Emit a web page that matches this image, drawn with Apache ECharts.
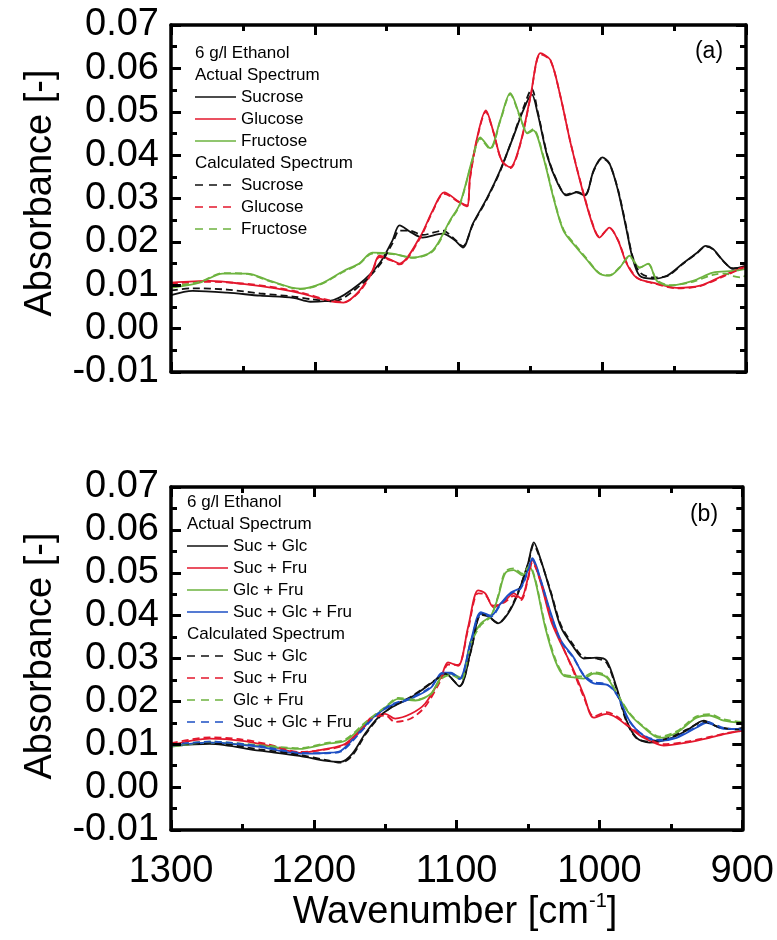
<!DOCTYPE html>
<html>
<head>
<meta charset="utf-8">
<script src="https://cdn.jsdelivr.net/npm/echarts@6/dist/echarts.min.js"></script>
<style>html,body{margin:0;padding:0;background:#fff;}#c{width:777px;height:940px;}</style>
</head>
<body>
<div id="c"></div>
<script>
// ---------- DATA ----------
const xTicks = [1300, 1200, 1100, 1000, 900];
const yRange = [-0.01, 0.07];

// Panel (a): [wavenumber, absorbance]
const aSucroseActual = [[1300,0.0077],[1285,0.0087],[1261,0.0083],[1238,0.0076],[1215,0.0071],[1203,0.0062],[1187,0.0066],[1169,0.0103],[1155,0.0150],[1146,0.0203],[1141,0.0238],[1133,0.0222],[1125,0.0210],[1111,0.0219],[1103,0.0205],[1097,0.0187],[1090,0.0242],[1080,0.0302],[1071,0.0365],[1062,0.0441],[1055,0.0503],[1049,0.0540],[1045,0.0497],[1038,0.0395],[1031,0.0335],[1025,0.0307],[1018,0.0314],[1012,0.0307],[1006,0.0365],[1000,0.0395],[995,0.0381],[989,0.0318],[983,0.0226],[979,0.0164],[974,0.0122],[965,0.0115],[955,0.0122],[944,0.0150],[934,0.0175],[928,0.0191],[923,0.0184],[916,0.0157],[909,0.0138],[900,0.0145]];
const aGlucoseActual = [[1300,0.0106],[1273,0.0110],[1250,0.0103],[1226,0.0092],[1208,0.0080],[1191,0.0064],[1180,0.0060],[1169,0.0087],[1160,0.0133],[1155,0.0168],[1146,0.0157],[1141,0.0150],[1127,0.0210],[1118,0.0272],[1110,0.0314],[1099,0.0291],[1094,0.0284],[1092,0.0349],[1087,0.0441],[1081,0.0503],[1076,0.0457],[1070,0.0388],[1064,0.0372],[1057,0.0427],[1050,0.0534],[1043,0.0635],[1036,0.0619],[1029,0.0534],[1022,0.0427],[1013,0.0310],[1006,0.0233],[1002,0.0210],[995,0.0233],[989,0.0203],[983,0.0150],[976,0.0117],[965,0.0106],[948,0.0094],[932,0.0099],[916,0.0122],[900,0.0145]];
const aFructoseActual = [[1300,0.0094],[1280,0.0106],[1264,0.0127],[1247,0.0127],[1231,0.0110],[1210,0.0092],[1196,0.0103],[1180,0.0133],[1169,0.0150],[1160,0.0175],[1146,0.0173],[1132,0.0164],[1118,0.0180],[1106,0.0249],[1099,0.0288],[1090,0.0395],[1085,0.0441],[1078,0.0416],[1071,0.0480],[1064,0.0543],[1057,0.0487],[1052,0.0450],[1048,0.0457],[1041,0.0395],[1034,0.0302],[1027,0.0226],[1018,0.0187],[1011,0.0160],[1002,0.0127],[995,0.0122],[988,0.0140],[981,0.0168],[974,0.0140],[968,0.0150],[962,0.0110],[953,0.0099],[937,0.0110],[923,0.0129],[909,0.0133],[900,0.0138]];
const aSucroseCalc = [[1300,0.0088],[1285,0.0093],[1261,0.0090],[1238,0.0081],[1215,0.0074],[1203,0.0068],[1187,0.0063],[1169,0.0098],[1155,0.0146],[1146,0.0196],[1141,0.0226],[1134,0.0226],[1125,0.0216],[1111,0.0226],[1103,0.0207],[1097,0.0190],[1090,0.0240],[1080,0.0300],[1071,0.0363],[1062,0.0443],[1055,0.0508],[1049,0.0552],[1045,0.0502],[1038,0.0398],[1031,0.0337],[1025,0.0309],[1018,0.0315],[1012,0.0309],[1006,0.0363],[1000,0.0393],[995,0.0380],[989,0.0320],[983,0.0230],[979,0.0168],[974,0.0130],[965,0.0118],[955,0.0121],[944,0.0149],[934,0.0174],[928,0.0189],[923,0.0183],[916,0.0156],[909,0.0139],[900,0.0143]];
const aGlucoseCalc = [[1300,0.0104],[1273,0.0108],[1250,0.0104],[1226,0.0094],[1208,0.0082],[1191,0.0066],[1180,0.0061],[1169,0.0085],[1160,0.0130],[1155,0.0165],[1146,0.0156],[1141,0.0148],[1127,0.0207],[1118,0.0270],[1110,0.0311],[1099,0.0290],[1094,0.0282],[1092,0.0345],[1087,0.0438],[1081,0.0500],[1076,0.0456],[1070,0.0387],[1064,0.0370],[1057,0.0425],[1050,0.0532],[1043,0.0633],[1036,0.0618],[1029,0.0534],[1022,0.0428],[1013,0.0312],[1006,0.0235],[1002,0.0212],[995,0.0232],[989,0.0204],[983,0.0152],[976,0.0118],[965,0.0105],[948,0.0093],[932,0.0098],[916,0.0120],[900,0.0143]];
const aFructoseCalc = [[1300,0.0098],[1280,0.0108],[1264,0.0128],[1247,0.0126],[1231,0.0109],[1210,0.0091],[1196,0.0102],[1180,0.0131],[1169,0.0149],[1160,0.0173],[1146,0.0172],[1132,0.0163],[1118,0.0178],[1106,0.0247],[1099,0.0286],[1090,0.0393],[1085,0.0438],[1078,0.0414],[1071,0.0478],[1064,0.0540],[1057,0.0486],[1052,0.0452],[1048,0.0460],[1041,0.0398],[1034,0.0305],[1027,0.0229],[1018,0.0190],[1011,0.0162],[1002,0.0128],[995,0.0123],[988,0.0141],[981,0.0166],[974,0.0141],[968,0.0149],[962,0.0112],[953,0.0100],[937,0.0108],[923,0.0124],[914,0.0127],[909,0.0121],[903,0.0118],[900,0.0124]];

// Panel (b)
const bSucGlcActual = [[1300,0.0096],[1273,0.0101],[1238,0.0085],[1210,0.0073],[1191,0.0061],[1181,0.0059],[1173,0.0078],[1164,0.0125],[1155,0.0162],[1146,0.0185],[1132,0.0209],[1115,0.0249],[1108,0.0265],[1098,0.0235],[1090,0.0319],[1083,0.0405],[1078,0.0400],[1071,0.0382],[1064,0.0405],[1057,0.0452],[1050,0.0522],[1046,0.0571],[1041,0.0529],[1034,0.0452],[1027,0.0373],[1018,0.0326],[1011,0.0300],[1002,0.0302],[995,0.0295],[988,0.0232],[981,0.0155],[974,0.0115],[965,0.0104],[951,0.0113],[939,0.0132],[927,0.0155],[916,0.0139],[903,0.0136],[900,0.0138]];
const bSucFruActual = [[1300,0.0098],[1273,0.0113],[1250,0.0108],[1231,0.0096],[1210,0.0080],[1191,0.0089],[1178,0.0101],[1166,0.0139],[1160,0.0162],[1150,0.0171],[1143,0.0160],[1132,0.0171],[1122,0.0195],[1111,0.0256],[1106,0.0291],[1099,0.0283],[1092,0.0373],[1085,0.0459],[1080,0.0452],[1074,0.0419],[1066,0.0436],[1060,0.0452],[1055,0.0440],[1050,0.0489],[1047,0.0529],[1041,0.0475],[1034,0.0389],[1027,0.0335],[1018,0.0272],[1011,0.0215],[1004,0.0162],[995,0.0171],[988,0.0162],[979,0.0139],[969,0.0115],[955,0.0097],[939,0.0104],[923,0.0115],[911,0.0125],[900,0.0132]];
const bGlcFruActual = [[1300,0.0094],[1273,0.0104],[1238,0.0096],[1210,0.0089],[1191,0.0101],[1178,0.0108],[1164,0.0148],[1150,0.0185],[1141,0.0206],[1129,0.0202],[1118,0.0218],[1111,0.0256],[1104,0.0265],[1097,0.0255],[1090,0.0342],[1083,0.0382],[1076,0.0400],[1071,0.0443],[1066,0.0499],[1060,0.0506],[1054,0.0494],[1049,0.0513],[1045,0.0482],[1038,0.0373],[1031,0.0295],[1025,0.0260],[1018,0.0256],[1011,0.0253],[1004,0.0265],[995,0.0256],[988,0.0218],[979,0.0171],[969,0.0139],[958,0.0115],[946,0.0127],[932,0.0162],[923,0.0167],[913,0.0155],[900,0.0150]];
const bAllActual = [[1300,0.0096],[1273,0.0104],[1238,0.0094],[1210,0.0078],[1191,0.0080],[1181,0.0085],[1169,0.0125],[1157,0.0167],[1146,0.0190],[1132,0.0206],[1118,0.0232],[1110,0.0267],[1104,0.0267],[1098,0.0253],[1090,0.0342],[1083,0.0408],[1076,0.0400],[1069,0.0429],[1062,0.0454],[1055,0.0466],[1049,0.0518],[1047,0.0534],[1041,0.0482],[1034,0.0405],[1027,0.0342],[1018,0.0302],[1011,0.0260],[1004,0.0242],[995,0.0239],[988,0.0218],[979,0.0155],[969,0.0120],[958,0.0108],[946,0.0115],[932,0.0139],[925,0.0150],[913,0.0136],[900,0.0136]];
const bSucGlcCalc = [[1300,0.0098],[1273,0.0103],[1238,0.0088],[1210,0.0075],[1191,0.0063],[1181,0.0057],[1173,0.0074],[1164,0.0122],[1155,0.0160],[1146,0.0186],[1132,0.0211],[1115,0.0250],[1108,0.0264],[1098,0.0236],[1090,0.0317],[1083,0.0402],[1078,0.0398],[1071,0.0383],[1064,0.0407],[1057,0.0455],[1050,0.0520],[1046,0.0565],[1041,0.0527],[1034,0.0455],[1027,0.0378],[1018,0.0330],[1011,0.0303],[1002,0.0300],[995,0.0290],[988,0.0228],[981,0.0152],[974,0.0114],[965,0.0106],[951,0.0115],[939,0.0134],[927,0.0152],[916,0.0140],[903,0.0134],[900,0.0137]];
const bSucFruCalc = [[1300,0.0102],[1273,0.0116],[1250,0.0111],[1231,0.0099],[1210,0.0082],[1191,0.0088],[1178,0.0099],[1166,0.0136],[1160,0.0160],[1150,0.0167],[1143,0.0152],[1132,0.0160],[1122,0.0188],[1111,0.0250],[1106,0.0286],[1099,0.0285],[1092,0.0368],[1085,0.0452],[1080,0.0449],[1074,0.0423],[1066,0.0432],[1060,0.0446],[1055,0.0436],[1050,0.0485],[1047,0.0524],[1041,0.0478],[1034,0.0395],[1027,0.0338],[1018,0.0268],[1011,0.0210],[1004,0.0165],[995,0.0175],[988,0.0165],[979,0.0141],[969,0.0118],[955,0.0100],[939,0.0106],[923,0.0117],[911,0.0126],[900,0.0131]];
const bGlcFruCalc = [[1300,0.0097],[1273,0.0106],[1238,0.0098],[1210,0.0091],[1191,0.0103],[1178,0.0111],[1164,0.0151],[1150,0.0187],[1141,0.0208],[1129,0.0204],[1118,0.0217],[1111,0.0252],[1104,0.0262],[1097,0.0250],[1090,0.0335],[1083,0.0378],[1076,0.0398],[1071,0.0446],[1066,0.0503],[1060,0.0510],[1054,0.0498],[1049,0.0516],[1045,0.0485],[1038,0.0378],[1031,0.0300],[1025,0.0263],[1018,0.0259],[1011,0.0258],[1004,0.0268],[995,0.0259],[988,0.0220],[979,0.0173],[969,0.0141],[958,0.0118],[946,0.0130],[932,0.0165],[923,0.0170],[913,0.0158],[900,0.0152]];
const bAllCalc = [[1300,0.0099],[1273,0.0106],[1238,0.0096],[1210,0.0080],[1191,0.0079],[1181,0.0083],[1169,0.0122],[1157,0.0165],[1146,0.0192],[1132,0.0208],[1118,0.0234],[1110,0.0265],[1104,0.0265],[1098,0.0252],[1090,0.0338],[1083,0.0404],[1076,0.0398],[1069,0.0427],[1062,0.0452],[1055,0.0464],[1049,0.0515],[1047,0.0530],[1041,0.0480],[1034,0.0402],[1027,0.0340],[1018,0.0300],[1011,0.0262],[1004,0.0245],[995,0.0240],[988,0.0216],[979,0.0153],[969,0.0121],[958,0.0110],[946,0.0117],[932,0.0141],[925,0.0152],[913,0.0138],[900,0.0134]];

const aNames = ['Sucrose', 'Glucose', 'Fructose'];
const bNames = ['Suc + Glc', 'Suc + Fru', 'Glc + Fru', 'Suc + Glc + Fru'];
const headTitle = '6 g/l Ethanol';
const headActual = 'Actual Spectrum';
const headCalc = 'Calculated Spectrum';

// ---------- STYLE ----------
const FONT = '"Liberation Sans", Arial, sans-serif';
const C_BLACK = '#111111', C_RED = '#e3172d', C_GREEN = '#6db33f', C_BLUE = '#1d4fc4';
const aColors = [C_BLACK, C_RED, C_GREEN];
const bColors = [C_BLACK, C_RED, C_GREEN, C_BLUE];

const grids = [
  {left: 171, top: 25, width: 575, height: 347},
  {left: 171, top: 487, width: 575, height: 343}
];

function baseAxis() {
  return {
    type: 'value', z: 10,
    axisLine: {show: true, onZero: false, lineStyle: {color: '#000', width: 3.5}},
    axisTick: {show: true, inside: true, length: 10, lineStyle: {color: '#000', width: 3}},
    minorTick: {show: true, splitNumber: 2, length: 6, lineStyle: {color: '#000', width: 3}},
    splitLine: {show: false}
  };
}
function xAx(gridIndex, position, showLabel) {
  return Object.assign(baseAxis(), {
    gridIndex, position, min: xTicks[xTicks.length-1], max: xTicks[0], interval: 100, inverse: true,
    axisLabel: {show: showLabel, fontSize: 38, fontFamily: FONT, color: '#000', margin: 23,
      formatter: v => String(v)}
  });
}
function yAx(gridIndex, position, showLabel) {
  return Object.assign(baseAxis(), {
    gridIndex, position, min: yRange[0], max: yRange[1], interval: 0.01,
    axisLabel: {show: showLabel, fontSize: 38, fontFamily: FONT, color: '#000', margin: 12,
      formatter: v => v.toFixed(2)}
  });
}

function line(name, data, color, dashed, xi, yi) {
  return {
    name, type: 'line', data, xAxisIndex: xi, yAxisIndex: yi,
    symbol: 'none', smooth: 0.3,
    lineStyle: {color, width: 1.8, type: dashed ? [7, 4] : 'solid'},
    z: dashed ? 3 : 2
  };
}

const aActual = [aSucroseActual, aGlucoseActual, aFructoseActual];
const aCalc = [aSucroseCalc, aGlucoseCalc, aFructoseCalc];
const bActual = [bSucGlcActual, bSucFruActual, bGlcFruActual, bAllActual];
const bCalc = [bSucGlcCalc, bSucFruCalc, bGlcFruCalc, bAllCalc];

const series = [];
aNames.forEach((n, i) => series.push(line(n + ' (actual)', aActual[i], aColors[i], false, 0, 0)));
aNames.forEach((n, i) => series.push(line(n + ' (calculated)', aCalc[i], aColors[i], true, 0, 0)));
bNames.forEach((n, i) => series.push(line(n + ' (actual)', bActual[i], bColors[i], false, 2, 2)));
bNames.forEach((n, i) => series.push(line(n + ' (calculated)', bCalc[i], bColors[i], true, 2, 2)));

// ---------- LEGEND (graphic) ----------
const graphic = [];
function legendBlock(x0, y0, step, names, colors) {
  const rows = [];
  rows.push({text: headTitle});
  rows.push({text: headActual});
  names.forEach((n, i) => rows.push({text: n, color: colors[i], dashed: false}));
  rows.push({text: headCalc});
  names.forEach((n, i) => rows.push({text: n, color: colors[i], dashed: true}));
  rows.forEach((r, i) => {
    const y = y0 + i * step;
    if (r.color) {
      graphic.push({type: 'line', shape: {x1: x0, y1: y, x2: x0 + 41, y2: y},
        style: {stroke: r.color, lineWidth: 1.6, lineDash: r.dashed ? [8, 6] : null}});
      graphic.push({type: 'text', x: x0 + 46, y: y,
        style: {text: r.text, font: '17px ' + FONT, fill: '#000', textVerticalAlign: 'middle'}});
    } else {
      graphic.push({type: 'text', x: x0, y: y,
        style: {text: r.text, font: '17px ' + FONT, fill: '#000', textVerticalAlign: 'middle'}});
    }
  });
}
legendBlock(195, 53, 22, aNames, aColors);
legendBlock(187, 502, 22, bNames, bColors);

graphic.push({type: 'text', x: 709, y: 52, style: {text: '(a)', font: '23px ' + FONT, fill: '#000', textAlign: 'center', textVerticalAlign: 'middle'}});
graphic.push({type: 'text', x: 704, y: 515, style: {text: '(b)', font: '23px ' + FONT, fill: '#000', textAlign: 'center', textVerticalAlign: 'middle'}});

[193, 656].forEach(cy => {
  graphic.push({type: 'text', x: 41, y: cy, rotation: Math.PI / 2,
    style: {text: 'Absorbance [-]', font: '38px ' + FONT, fill: '#000', textAlign: 'center', textVerticalAlign: 'middle'}});
});
graphic.push({type: 'text', x: 455, y: 913,
  style: {text: '{a|Wavenumber [cm}{s|-1}{a|]}', fill: '#000', textAlign: 'center', textVerticalAlign: 'middle',
    font: '38px ' + FONT,
    rich: {a: {fontSize: 38, fontFamily: 'Liberation Sans', fill: '#000', lineHeight: 44},
           s: {fontSize: 20, fontFamily: 'Liberation Sans', fill: '#000', verticalAlign: 'top', lineHeight: 20}}}});

const chart = echarts.init(document.getElementById('c'));
chart.setOption({
  animation: false,
  grid: grids,
  xAxis: [xAx(0, 'bottom', false), xAx(0, 'top', false), xAx(1, 'bottom', true), xAx(1, 'top', false)],
  yAxis: [yAx(0, 'left', true), yAx(0, 'right', false), yAx(1, 'left', true), yAx(1, 'right', false)],
  series,
  graphic
});
</script>
</body>
</html>
